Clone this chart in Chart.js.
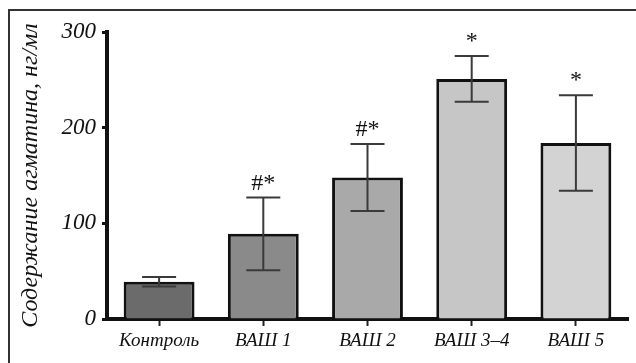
<!DOCTYPE html>
<html>
<head>
<meta charset="utf-8">
<script src="https://cdn.jsdelivr.net/npm/chart.js@4"></script>
<style>
  html, body { margin: 0; padding: 0; background: #fff; }
  #wrap { position: relative; width: 636px; height: 363px; }
  #frame { position: absolute; left: 8px; top: 9px; right: 0; bottom: 0;
           border-left: 2px solid #333; border-top: 2px solid #333; pointer-events: none; }
</style>
</head>
<body>
<div id="wrap">
  <canvas id="chart" width="636" height="363"></canvas>
  <div id="frame"></div>
</div>
<script>
const groups = ['Контроль', 'ВАШ 1', 'ВАШ 2', 'ВАШ 3\u20134', 'ВАШ 5'];
const means = [39, 89, 148, 251, 184];
const errors = [5, 38, 35, 24, 50];
const marks = ['', '#*', '#*', '*', '*'];
const yTicks = [0, 100, 200, 300];

const fills = ['#6b6b6b', '#8a8a8a', '#a9a9a9', '#c6c6c6', '#d3d3d3'];

const errorBars = {
    id: 'errorBars',
    afterDatasetsDraw(chart) {
        const ctx = chart.ctx;
        const meta = chart.getDatasetMeta(0);
        const y = chart.scales.y;
        ctx.save();
        meta.data.forEach((bar, i) => {
            const x = bar.x;
            const top = y.getPixelForValue(means[i] + errors[i]);
            const bottom = y.getPixelForValue(means[i] - errors[i]);
            ctx.strokeStyle = '#3a3a3a';
            ctx.lineWidth = 2;
            ctx.beginPath();
            ctx.moveTo(x, top);
            ctx.lineTo(x, bottom);
            ctx.moveTo(x - 17, top);
            ctx.lineTo(x + 17, top);
            ctx.moveTo(x - 17, bottom);
            ctx.lineTo(x + 17, bottom);
            ctx.stroke();
            if (marks[i]) {
                ctx.fillStyle = '#111';
                ctx.font = '24px "Liberation Serif"';
                ctx.textAlign = 'center';
                ctx.textBaseline = 'bottom';
                ctx.fillText(marks[i], x, top - 2);
            }
        });
        ctx.restore();
    }
};

const ctx = document.getElementById('chart').getContext('2d');
new Chart(ctx, {
    type: 'bar',
    data: {
        labels: groups,
        datasets: [{
            data: means,
            backgroundColor: fills,
            borderColor: '#111',
            borderWidth: 3,
            borderSkipped: 'bottom',
            barPercentage: 0.68,
            categoryPercentage: 1
        }]
    },
    options: {
        responsive: false,
        animation: false,
        layout: { padding: { left: 10, top: 32, right: 8, bottom: 0 } },
        plugins: {
            legend: { display: false },
            tooltip: { enabled: false }
        },
        scales: {
            x: {
                grid: { drawOnChartArea: false, offset: false, tickLength: 7, tickWidth: 2, color: '#222' },
                border: { color: '#111', width: 4 },
                ticks: {
                    color: '#111',
                    padding: 4,
                    maxRotation: 0,
                    font: { family: 'Liberation Serif', style: 'italic', size: 19 }
                },
                afterFit: (scale) => { scale.height = 44; }
            },
            y: {
                min: 0,
                max: 300,
                afterBuildTicks: (scale) => { scale.ticks = yTicks.map(v => ({ value: v })); },
                grid: { drawOnChartArea: false, tickLength: 5, tickWidth: 3, color: '#111' },
                border: { color: '#111', width: 4 },
                ticks: {
                    color: '#111',
                    padding: 6,
                    font: { family: 'Liberation Serif', style: 'italic', size: 23 }
                },
                title: {
                    display: true,
                    text: 'Содержание агматина, нг/мл',
                    color: '#111',
                    padding: { top: 6, bottom: 0 },
                    font: { family: 'Liberation Serif', style: 'italic', size: 24 }
                },
                afterFit: (scale) => { scale.width = 97; }
            }
        }
    },
    plugins: [errorBars]
});
</script>
</body>
</html>
